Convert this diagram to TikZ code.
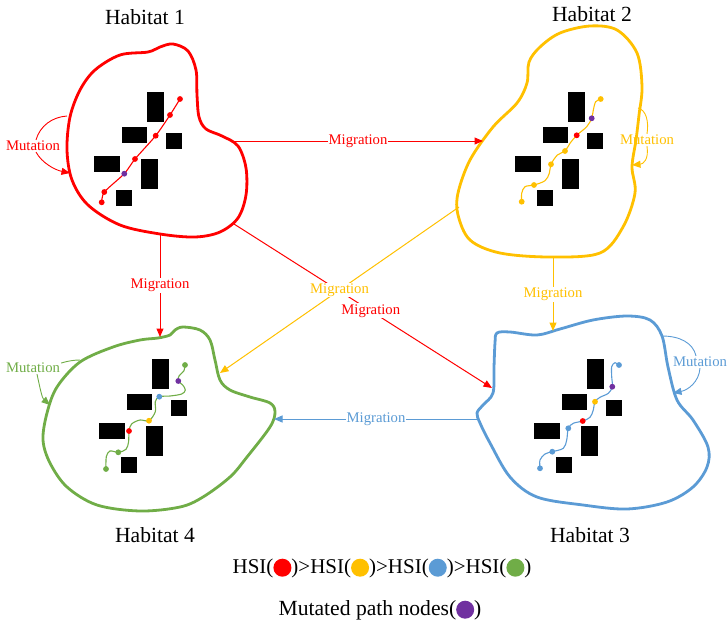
\documentclass[tikz,border=0pt]{standalone}
\usepackage{fontspec}
\setmainfont{Liberation Serif}
\usetikzlibrary{arrows.meta}
\definecolor{hred}{HTML}{FF0000}
\definecolor{hyel}{HTML}{FFC000}
\definecolor{hblue}{HTML}{5B9BD5}
\definecolor{hgreen}{HTML}{70AD47}
\definecolor{hpurp}{HTML}{7030A0}
\newcommand{\hdot}[1]{\tikz[baseline=-0.255em]\fill[#1] (0pt,0pt) circle[radius=9pt];}
\tikzset{
  blob/.style={line width=2.8pt, line join=round},
  conn/.style={line width=1pt, -{Triangle[length=8.5pt,width=7pt]}},
  arc/.style={line width=0.9pt},
  arcarrow/.style={line width=0.9pt, -{Triangle[length=8.5pt,width=7pt]}},
  lbl/.style={font=\fontsize{14.7}{17}\selectfont, fill=white, inner sep=1pt},
  mlbl/.style={font=\fontsize{14.7}{17}\selectfont, inner sep=1pt},
  hab/.style={font=\fontsize{21.6}{25}\selectfont},
  pathline/.style={line width=1.1pt},
}
\begin{document}
\begin{tikzpicture}[x=1pt,y=-1pt]
\useasboundingbox (0,0) rectangle (727,627);

% ---------- habitat outlines ----------
\draw[blob, hred] plot[smooth cycle, tension=0.55] coordinates {(67,150) (70,117) (80,90) (95,70) (120,55) (148,52) (160,47) (173,44) (188,51) (196,70) (197,95) (199,117) (206,129) (222,136) (238,146) (246,168) (246,195) (238,218) (220,232) (195,237) (160,234) (120,225) (88,205) (72,180)};
\draw[blob, hyel] plot[smooth cycle, tension=0.55] coordinates {(529,62) (540,47) (560,33) (590,26) (617,30) (637,53) (642,87) (639,115) (636,140) (632,167) (635,193) (623,227) (600,253) (550,257) (500,253) (470,240) (458,215) (458,193) (470,160) (493,127) (517,103) (527,83)};
\draw[blob, hblue] plot[smooth cycle, tension=0.55] coordinates {(497,333) (510,332) (537,335) (560,329) (593,320) (627,316) (650,320) (662,336) (668,367) (677,400) (693,420) (708,447) (707,467) (693,487) (667,502) (627,509) (583,505) (537,497) (510,477) (490,443) (480,423) (477,413) (483,405) (493,393) (494,367) (495,343)};
\draw[blob, hgreen] plot[smooth cycle, tension=0.55] coordinates {(140,340) (158,338) (170,335) (175,330) (183,327) (200,330) (210,340) (215,360) (220,380) (230,390) (250,397) (270,403) (275,412) (270,427) (247,457) (230,477) (203,497) (180,507) (140,511) (97,505) (67,487) (50,463) (43,440) (47,413) (57,387) (80,362) (113,347)};

% ---------- connector end points ----------
\coordinate (h1e) at (233,141);
\coordinate (h2w) at (483,141);
\coordinate (h1s) at (160,234);
\coordinate (h4n) at (160,337);
\coordinate (h1se) at (234,224);
\coordinate (h3nw) at (492,388);
\coordinate (h2sw) at (459,207);
\coordinate (h4ne) at (220,373);
\coordinate (h2s) at (553,258);
\coordinate (h3n) at (553,331);
\coordinate (h3w) at (478,419);
\coordinate (h4e) at (274,419);

% ---------- migrations ----------
\draw[conn, hred] (h1e) -- node[lbl, text=hred] (m12) {Migration} (h2w);
\draw[conn, hred] (h1s) -- node[lbl, text=hred] (m14) {Migration} (h4n);
\draw[conn, hred] (h1se) -- node[lbl, text=hred, pos=0.53] (m13) {Migration} (h3nw);
\draw[conn, hyel] (h2sw) -- node[lbl, text=hyel] (m24) {Migration} (h4ne);
\draw[conn, hyel] (h2s) -- node[lbl, text=hyel] (m23) {Migration} (h3n);
\draw[conn, hblue] (h3w) -- node[lbl, text=hblue] (m34) {Migration} (h4e);

% ---------- mutations ----------
\coordinate (r1a) at (67,116);
\coordinate (r1b) at (70,173);
\node[mlbl, text=hred] (mr) at (33,146) {Mutation};
\draw[arc, hred] (r1a) .. controls (52,117) and (40,126) .. ([xshift=3pt]mr.north);
\draw[arcarrow, hred] ([xshift=3pt]mr.south) .. controls (42,163) and (55,170) .. (r1b);

\coordinate (y1a) at (638,108);
\coordinate (y1b) at (632,165);
\node[mlbl, text=hyel] (my) at (647,140) {Mutation};
\draw[arc, hyel] (y1a) .. controls (646,110) and (649,121) .. (my.north);
\draw[arcarrow, hyel] (my.south) .. controls (649,160) and (643,164) .. (y1b);

\coordinate (b1a) at (662,336);
\coordinate (b1b) at (673,393);
\node[mlbl, text=hblue] (mb) at (700,362) {Mutation};
\draw[arc, hblue] (b1a) .. controls (680,336) and (693,343) .. ([xshift=-4pt]mb.north);
\draw[arcarrow, hblue] (mb.south) .. controls (699,382) and (688,390) .. (b1b);

\coordinate (g1a) at (80,360);
\coordinate (g1b) at (50,405);
\node[mlbl, text=hgreen] (mg) at (33,368) {Mutation};
\draw[arc, hgreen] ([yshift=5pt]mg.east) .. controls (68,361) and (74,360) .. (g1a);
\draw[arcarrow, hgreen] ([xshift=4pt]mg.south) .. controls (40,388) and (42,398) .. (g1b);

% ---------- habitat contents ----------
% Habitat 1
\begin{scope}[shift={(147.3,92.3)}]
\fill (0,0) rectangle +(17,30);
\fill (-25,35) rectangle +(25,16);
\fill (19,40.5) rectangle +(16,16);
\fill (-53,64) rectangle +(26,16);
\fill (-6,67) rectangle +(17,30);
\fill (-31,97.5) rectangle +(16,16);
\draw[pathline, hred] plot[smooth, tension=0.4] coordinates {(32.7,6.7) (22.7,22.7) (8.4,43.4) (-12.3,66.7) (-23,81.4) (-43,99.7) (-45.6,110)};
\foreach \p/\c in {{(32.7,6.7)}/hred, {(22.7,22.7)}/hred, {(8.4,43.4)}/hred, {(-12.3,66.7)}/hred, {(-23,81.4)}/hpurp, {(-43,99.7)}/hred, {(-45.6,110)}/hred}
  \fill[\c] \p circle[radius=2.9];
\end{scope}
% Habitat 2
\begin{scope}[shift={(568.3,92.3)}]
\fill (0,0) rectangle +(17,30);
\fill (-25,35) rectangle +(25,16);
\fill (19,40.5) rectangle +(16,16);
\fill (-53,64) rectangle +(26,16);
\fill (-6,67) rectangle +(17,30);
\fill (-31,97.5) rectangle +(16,16);
\draw[pathline, hyel] plot[smooth, tension=0.55] coordinates {(32.4,6.7) (27.4,9.4) (25,17.7) (23.4,26) (18.4,34.4) (8.4,43) (1.7,51) (-3.3,58.7) (-10.9,62.7) (-17.3,72) (-19,81) (-23.3,88.4) (-34.3,92.7) (-43.3,94.4) (-46.6,101) (-46.6,109.4)};
\foreach \p/\c in {{(32.4,6.7)}/hyel, {(23.4,26)}/hpurp, {(8.4,43)}/hred, {(-3.3,58.7)}/hyel, {(-17.3,72)}/hyel, {(-34.3,92.7)}/hyel, {(-46.6,109.4)}/hyel}
  \fill[\c] \p circle[radius=2.9];
\end{scope}
% Habitat 3
\begin{scope}[shift={(586.7,359)}]
\fill (0,0) rectangle +(17,30);
\fill (-25,35) rectangle +(25,16);
\fill (19,40.5) rectangle +(16,16);
\fill (-53,64) rectangle +(26,16);
\fill (-6,67) rectangle +(17,30);
\fill (-31,97.5) rectangle +(16,16);
\draw[pathline, hblue] plot[smooth, tension=0.55] coordinates {(32.3,6) (28.3,3.7) (25,7.7) (25,17.7) (25.6,27.7) (21.6,34.3) (13.3,38.3) (8.3,42.7) (6.6,51) (3.3,58.3) (-4,62) (-13.4,64.3) (-18.4,69.3) (-20,81) (-23.4,89.3) (-34.4,92.7) (-41.7,95) (-46.7,101) (-46.7,109.3)};
\foreach \p/\c in {{(32.3,6)}/hblue, {(25.6,27.7)}/hpurp, {(8.3,42.7)}/hyel, {(-4,62)}/hred, {(-18.4,69.3)}/hblue, {(-34.4,92.7)}/hblue, {(-46.7,109.3)}/hblue}
  \fill[\c] \p circle[radius=2.9];
\end{scope}
% Habitat 4
\begin{scope}[shift={(152.3,359)}]
\fill (0,0) rectangle +(17,30);
\fill (-25,35) rectangle +(25,16);
\fill (19,40.5) rectangle +(16,16);
\fill (-53,64) rectangle +(26,16);
\fill (-6,67) rectangle +(17,30);
\fill (-31,97.5) rectangle +(16,16);
\draw[pathline, hgreen] plot[smooth, tension=0.55] coordinates {(32.7,6) (31.7,11.7) (26.7,17) (26,22) (30.4,26) (33,31) (29.4,35) (17.7,37) (7,37.7) (3,42.7) (3,52.7) (-3.3,61.7) (-12.3,61) (-20.7,65) (-23.3,72) (-23.7,82.7) (-26.3,90.3) (-34,93.3) (-42.3,92) (-46,97.7) (-46.3,110)};
\foreach \p/\c in {{(32.7,6)}/hgreen, {(26,22)}/hpurp, {(7,37.7)}/hblue, {(-3.3,61.7)}/hyel, {(-23.3,72)}/hred, {(-34,93.3)}/hgreen, {(-46.3,110)}/hgreen}
  \fill[\c] \p circle[radius=2.9];
\end{scope}

% ---------- titles ----------
\node[hab] (t1) at (145,17) {Habitat 1};
\node[hab] (t2) at (592,14) {Habitat 2};
\node[hab] (t3) at (590,535) {Habitat 3};
\node[hab] (t4) at (155,535) {Habitat 4};

% ---------- legend ----------
\node[hab, inner sep=0pt, font=\fontsize{21}{25}\selectfont] (leg1) at (382,568) {HSI(\hdot{hred})>HSI(\hdot{hyel})>HSI(\hdot{hblue})>HSI(\hdot{hgreen})};
\node[hab, inner sep=0pt] (leg2) at (380,610) {Mutated path nodes(\hdot{hpurp})};
\end{tikzpicture}
\end{document}
